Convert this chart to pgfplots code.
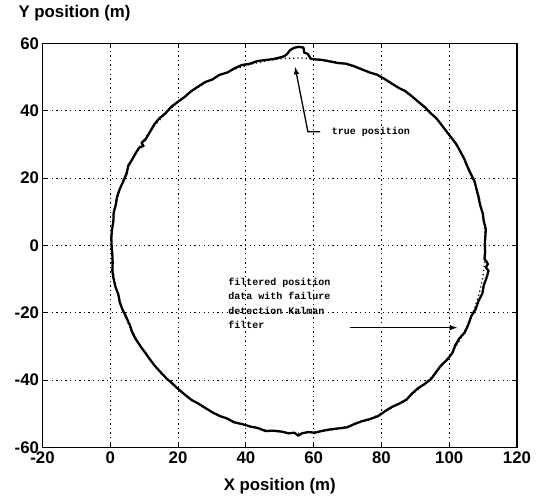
\documentclass[border=0pt]{standalone}
\usepackage{pgfplots}
\pgfplotsset{compat=1.18}
\usetikzlibrary{arrows.meta}
\usepackage{fontspec}
\setmainfont{Liberation Sans}
\newfontfamily\annfont{Liberation Mono}
\begin{document}
\begin{tikzpicture}
\begin{axis}[
  scale only axis,
  width=474.5pt, height=404pt,
  xmin=-20, xmax=120, ymin=-60, ymax=60,
  xtick={-20,0,...,120}, ytick={-60,-40,...,60},
  tick align=inside,
  major tick length=5pt,
  xtick pos=both, ytick pos=both,
  axis line style={line width=1.3pt},
  every tick/.style={black, line width=0.9pt},
  grid=major,
  major grid style={black, line width=1.1pt, dash pattern=on 1.3pt off 3.3pt},
  /pgf/number format/assume math mode=true,
  tick label style={font=\bfseries\fontsize{16.8}{17}\selectfont},
  xticklabel style={yshift=-1pt},
  yticklabel style={xshift=0pt},
  every axis x label/.style={at={(rel axis cs:0.5,0)}, anchor=base, yshift=-43pt},
  every axis y label/.style={at={(rel axis cs:0,1)}, anchor=base west, xshift=-27.5pt, yshift=25.5pt},
  xlabel={X position (m)},
  ylabel={Y position (m)},
  label style={font=\bfseries\fontsize{16.8}{17}\selectfont},
  clip=false,
]
\coordinate (ll) at (rel axis cs:0,0);
\coordinate (ur) at (rel axis cs:1,1);
% true position (dotted)
\addplot[black, line width=1.3pt, dash pattern=on 1.2pt off 3pt] coordinates {
(110.7,0.00) (110.49,4.86) (109.86,9.67) (108.82,14.42) (107.37,19.05) (105.53,23.54)
(103.30,27.85) (100.72,31.95) (97.78,35.80) (94.53,39.39) (90.98,42.67) (87.16,45.63)
(83.10,48.24) (78.83,50.48) (74.38,52.34) (69.79,53.80) (65.08,54.85) (60.31,55.49)
(55.5,55.7) (50.69,55.49) (45.92,54.85) (41.21,53.80) (36.62,52.34) (32.17,50.48)
(27.90,48.24) (23.84,45.63) (20.02,42.67) (16.47,39.39) (13.22,35.80) (10.28,31.95)
(7.70,27.85) (5.47,23.54) (3.63,19.05) (2.18,14.42) (1.14,9.67) (0.51,4.86)
(0.30,0.00) (0.51,-4.86) (1.14,-9.67) (2.18,-14.42) (3.63,-19.05) (5.47,-23.54)
(7.70,-27.85) (10.28,-31.95) (13.22,-35.80) (16.47,-39.39) (20.02,-42.67) (23.84,-45.63)
(27.90,-48.24) (32.17,-50.48) (36.62,-52.34) (41.21,-53.80) (45.92,-54.85) (50.69,-55.49)
(55.5,-55.7) (60.31,-55.49) (65.08,-54.85) (69.79,-53.80) (74.38,-52.34) (78.83,-50.48)
(83.10,-48.24) (87.16,-45.63) (90.98,-42.67) (94.53,-39.39) (97.78,-35.80) (100.72,-31.95)
(103.30,-27.85) (105.53,-23.54) (107.37,-19.05) (108.82,-14.42) (109.86,-9.67) (110.49,-4.86)
(110.7,0.00)
};
% filtered position (solid)
\addplot[black, line width=2.3pt, line join=round] coordinates {
(110.5,0.3) (110.8,4.9) (110.2,7.2) (109.9,9.5) (109.1,12.1) (108.6,14.6) (108.0,16.9) (107.5,19.0)
(106.2,21.6) (105.2,23.8) (104.5,25.6) (103.4,27.7) (102.1,30.1) (100.5,32.2) (99.4,33.6) (97.9,35.6)
(96.3,37.7) (94.2,39.6) (92.9,41.0) (91.1,42.5) (89.0,44.3) (87.0,45.9) (85.3,46.7) (83.2,48.0)
(80.7,49.6) (78.6,50.8) (76.8,51.3) (74.5,52.2) (71.8,53.3) (69.6,54.0) (67.2,54.2) (65.1,54.6)
(62.6,55.1) (60.3,55.3) (59.1,55.5) (58.3,56.9) (57.2,57.3) (57.0,58.8) (55.5,59.0) (54.2,58.7)
(53.0,58.0) (52.3,57.0) (51.6,56.4) (50.7,56.0) (48.2,55.4) (45.9,55.1) (43.5,54.8) (41.2,54.0)
(38.8,53.6) (36.6,52.6) (34.6,51.4) (32.2,50.7) (30.1,49.3) (27.9,48.5) (25.6,47.0) (23.7,45.7)
(21.9,44.1) (20.1,42.8) (18.0,41.2) (16.3,39.3) (14.5,37.8) (13.0,36.0) (11.8,33.9) (10.4,31.5)
(9.2,30.5) (9.8,29.6) (8.5,29.0) (7.6,27.6) (6.6,25.8) (5.3,23.7) (4.8,21.3) (3.9,19.2)
(2.8,16.8) (2.0,14.5) (1.6,12.0) (1.0,9.8) (0.9,7.1) (0.5,4.7) (0.3,2.2) (0.4,-0.2)
(0.6,-2.6) (0.7,-5.0) (0.6,-7.4) (0.9,-9.5) (1.5,-12.2) (2.4,-14.6) (2.8,-16.9) (3.6,-19.0)
(4.8,-21.5) (5.8,-23.7) (6.4,-25.6) (7.5,-27.8) (9.1,-30.2) (10.5,-32.1) (11.6,-33.7) (13.1,-35.7)
(15.0,-37.8) (16.7,-39.6) (18.1,-40.8) (19.9,-42.5) (22.1,-44.4) (24.0,-45.9) (25.7,-46.8) (27.8,-48.1)
(30.2,-49.6) (32.4,-50.7) (34.3,-51.3) (36.5,-52.5) (39.1,-53.1) (41.4,-53.8) (43.5,-54.2) (45.8,-55.1)
(48.3,-55.0) (50.7,-55.3) (52.6,-55.8) (54.3,-55.6) (55.5,-56.5) (56.5,-55.8) (58.4,-55.4) (60.3,-55.6)
(62.8,-55.0) (65.0,-54.6) (67.6,-54.3) (69.9,-54.0) (72.1,-53.0) (74.2,-52.2) (76.5,-51.6) (79.0,-50.7)
(81.1,-49.2) (83.0,-48.0) (85.4,-46.9) (87.4,-45.8) (89.0,-44.0) (90.8,-42.4) (92.8,-41.1) (94.7,-39.6)
(96.2,-37.5) (97.6,-35.6) (99.4,-33.9) (100.9,-32.0) (101.8,-29.6) (103.0,-27.6) (104.6,-25.8) (105.6,-23.6)
(106.5,-21.0) (107.8,-18.9) (108.6,-16.6) (109.8,-14.2) (110.2,-11.8) (111.0,-9.6) (111.6,-7.5) (110.8,-6.5)
(111.4,-5.5) (110.9,-4.6) (110.4,-4.0) (110.6,-1.9) (110.5,0.3)
};
% annotations
\draw[black, line width=1.3pt, -{Latex[length=8pt,width=5.5pt]}] (axis cs:61.9,33.8) -- (axis cs:58.3,33.8) -- (axis cs:54.5,53.2);
\node[anchor=west, inner sep=0pt, font=\annfont\bfseries\fontsize{10}{10}\selectfont] at (axis cs:65.3,33.8) {true position};
\draw[black, line width=1.3pt, -{Latex[length=8pt,width=5.5pt]}] (axis cs:70.7,-24.4) -- (axis cs:102.5,-24.4);
\node[anchor=north west, inner sep=0pt, align=left, font=\annfont\bfseries\fontsize{10}{14.3}\selectfont] at (axis cs:34.8,-9.6) {filtered position\\data with failure\\detection Kalman\\filter};
\end{axis}
\pgfresetboundingbox
\path ([shift={(-42.5pt,-49.5pt)}]ll) rectangle ([shift={(24pt,43.5pt)}]ur);
\end{tikzpicture}
\end{document}
